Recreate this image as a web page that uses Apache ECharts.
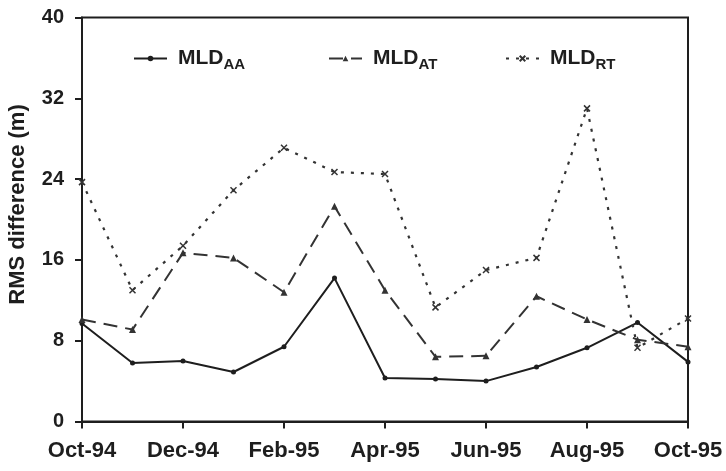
<!DOCTYPE html>
<html>
<head>
<meta charset="utf-8">
<script src="https://cdn.jsdelivr.net/npm/echarts@6/dist/echarts.min.js"></script>
<style>html,body{margin:0;padding:0;background:#fff;}#c{width:726px;height:471px;}</style>
</head>
<body>
<div id="c"></div>
<script>
const months = ['Oct-94','Nov-94','Dec-94','Jan-95','Feb-95','Mar-95','Apr-95','May-95','Jun-95','Jul-95','Aug-95','Sep-95','Oct-95'];
const mldAA = [9.7, 5.8, 6.0, 4.9, 7.4, 14.2, 4.3, 4.2, 4.0, 5.4, 7.3, 9.8, 5.9];
const mldAT = [10.1, 9.1, 16.7, 16.2, 12.8, 21.3, 13.0, 6.4, 6.5, 12.4, 10.1, 8.1, 7.4];
const mldRT = [23.7, 13.0, 17.4, 22.9, 27.1, 24.7, 24.5, 11.3, 15.0, 16.2, 31.0, 7.3, 10.2];
const yTicks = [0, 8, 16, 24, 32, 40];
const seriesNames = ['MLD_AA', 'MLD_AT', 'MLD_RT'];
const subs = {MLD_AA: 'AA', MLD_AT: 'AT', MLD_RT: 'RT'};

const ink = '#1e1e1e';
const font = 'Liberation Sans, Arial, sans-serif';
const chart = echarts.init(document.getElementById('c'), null, {renderer: 'canvas'});
const legendRich = {
  m: {fontFamily: font, fontWeight: 'bold', fontSize: 21, color: ink, padding: [0, 0, 0, 6]},
  s: {fontFamily: font, fontWeight: 'bold', fontSize: 15, color: ink, verticalAlign: 'top', padding: [12, 0, 0, 0]}
};
function mkLegend(name, left) {
  return {
    data: [name], left: left, top: 43, itemWidth: 33, itemHeight: 7,
    formatter: n => '{m|MLD}{s|' + subs[n] + '}',
    textStyle: {rich: legendRich}
  };
}
const xSym = 'path://M0,0L10,10M10,0L0,10';
chart.setOption({
  animation: false,
  backgroundColor: '#fff',
  legend: [mkLegend(seriesNames[0], 128), mkLegend(seriesNames[1], 323), mkLegend(seriesNames[2], 500)],
  grid: {left: 82, right: 38, top: 17.5, bottom: 49.5, show: true, borderColor: ink, borderWidth: 2,
         containLabel: false, outerBoundsMode: 'none'},
  xAxis: {
    type: 'category', data: months, boundaryGap: false,
    axisLine: {lineStyle: {color: ink, width: 2}},
    axisTick: {interval: 1, length: 7, lineStyle: {color: ink, width: 2}},
    axisLabel: {interval: 1, margin: 18, fontFamily: font, fontWeight: 'bold', fontSize: 22, color: ink},
    splitLine: {show: false}
  },
  yAxis: {
    type: 'value', min: yTicks[0], max: yTicks[yTicks.length - 1], interval: 8,
    name: 'RMS difference (m)', nameLocation: 'middle', nameGap: 53,
    nameTextStyle: {fontFamily: font, fontWeight: 'bold', fontSize: 22, color: ink, padding: [0, 0, 0, 30]},
    axisLine: {show: true, lineStyle: {color: ink, width: 2}},
    axisTick: {show: true, length: 7, lineStyle: {color: ink, width: 2}},
    axisLabel: {margin: 18, fontFamily: font, fontWeight: 'bold', fontSize: 20, color: ink},
    splitLine: {show: false}
  },
  series: [
    {name: seriesNames[0], type: 'line', data: mldAA, symbol: 'circle', symbolSize: 5,
     lineStyle: {color: ink, width: 2, type: 'solid'}, itemStyle: {color: ink}},
    {name: seriesNames[1], type: 'line', data: mldAT, symbol: 'triangle', symbolSize: 7,
     lineStyle: {color: '#333', width: 2, type: [14, 8]}, itemStyle: {color: '#333'}},
    {name: seriesNames[2], type: 'line', data: mldRT, symbol: xSym, symbolSize: 6,
     lineStyle: {color: '#333', width: 2.2, type: [3, 7]}, itemStyle: {color: '#333', borderColor: '#333', borderWidth: 1.5}}
  ]
});
</script>
</body>
</html>
